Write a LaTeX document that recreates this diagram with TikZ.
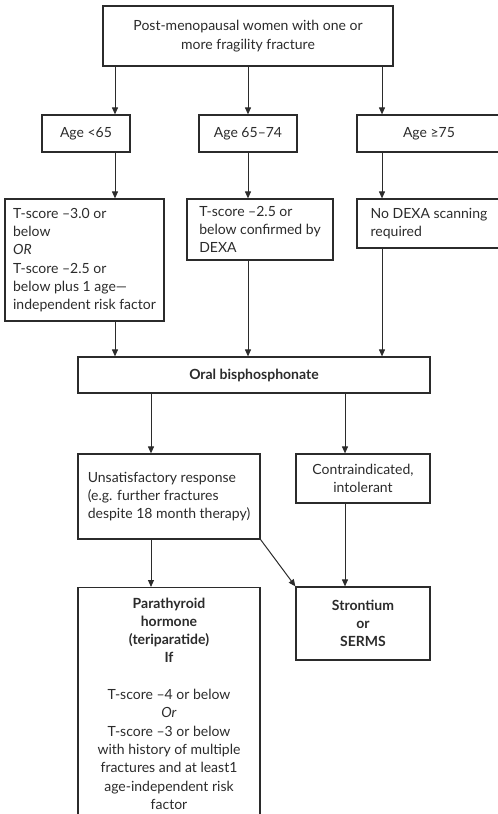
\documentclass[tikz,border=0pt]{standalone}
\usepackage{fontspec}
\setmainfont{Lato}
\usetikzlibrary{arrows.meta,calc}
\definecolor{ink}{HTML}{2B2B2B}
\begin{document}
\begin{tikzpicture}[x=1pt,y=-1pt,
  box/.style={draw=ink, line width=1.2pt, text=ink, rectangle, inner sep=0pt,
    font=\fontsize{14}{18.3}\selectfont},
  arr/.style={draw=ink, line width=1pt, -{Triangle[length=7pt,width=6pt]}}]
\useasboundingbox (0,0) rectangle (498,814);
% columns
\coordinate (xa) at (115,0);
\coordinate (xb) at (248,0);
\coordinate (xc) at (382,0);
\coordinate (xd) at (151,0);
\coordinate (xe) at (345,0);
% nodes
\node[box, minimum width=290pt, minimum height=60pt, align=center] (top) at (248,36)
  {Post-menopausal women with one or\\more fragility fracture};
\node[box, minimum width=88pt, minimum height=37pt] (agea) at (86,133.5) {Age <65};
\node[box, minimum width=98pt, minimum height=37pt] (ageb) at (248,133.5) {Age 65–74};
\node[box, minimum width=144pt, minimum height=37pt] (agec) at (429,133.5) {Age ≥75};
\node[box, minimum width=159pt, minimum height=122pt, align=left] (ta) at (84.5,260)
  {T-score –3.0 or\\below\\\textit{OR}\\T-score –2.5 or\\below plus 1 age—\\independent risk factor};
\node[box, minimum width=146pt, minimum height=61pt, align=left] (tb) at (260,229.5)
  {T-score –2.5 or\\below confirmed by\\DEXA};
\node[box, minimum width=144pt, minimum height=49pt, align=left] (tc) at (429,223.5)
  {No DEXA scanning\\required};
\node[box, minimum width=352pt, minimum height=36pt, font=\fontsize{14}{18.3}\selectfont\bfseries] (oral) at (254,375)
  {Oral bisphosphonate};
\node[box, minimum width=182pt, minimum height=85pt, align=left] (uns) at (169,496.5)
  {Unsatisfactory response\\(e.g. further fractures\\despite 18 month therapy)};
\node[box, minimum width=134pt, minimum height=49pt, align=center] (con) at (363,478.5)
  {Contraindicated,\\intolerant};
\node[box, minimum width=182pt, inner ysep=10pt, anchor=north, align=center] (pth) at (169,587)
  {\textbf{Parathyroid}\\\textbf{hormone}\\\textbf{(teriparatide)}\\\textbf{If}\\[18.3pt]
   T-score –4 or below\\\textit{Or}\\T-score –3 or below\\with history of multiple\\fractures and at least1\\age-independent risk\\factor};
\node[box, minimum width=134pt, minimum height=73pt, align=center, font=\fontsize{14}{18.3}\selectfont\bfseries] (str) at (363,623.5)
  {Strontium\\or\\SERMS};
% connectors
\draw[arr] (top.south -| xa) -- (agea.north -| xa);
\draw[arr] (top.south -| xb) -- (ageb.north -| xb);
\draw[arr] (top.south -| xc) -- (agec.north -| xc);
\draw[arr] (agea.south -| xa) -- (ta.north -| xa);
\draw[arr] (ageb.south -| xb) -- (tb.north -| xb);
\draw[arr] (agec.south -| xc) -- (tc.north -| xc);
\draw[arr] (ta.south -| xa) -- (oral.north -| xa);
\draw[arr] (tb.south -| xb) -- (oral.north -| xb);
\draw[arr] (tc.south -| xc) -- (oral.north -| xc);
\draw[arr] (oral.south -| xd) -- (uns.north -| xd);
\draw[arr] (oral.south -| xe) -- (con.north -| xe);
\draw[arr] (uns.south -| xd) -- (pth.north -| xd);
\draw[arr] (uns.south east) -- (str.north west);
\draw[arr] (con.south -| xe) -- (str.north -| xe);
\end{tikzpicture}
\end{document}
